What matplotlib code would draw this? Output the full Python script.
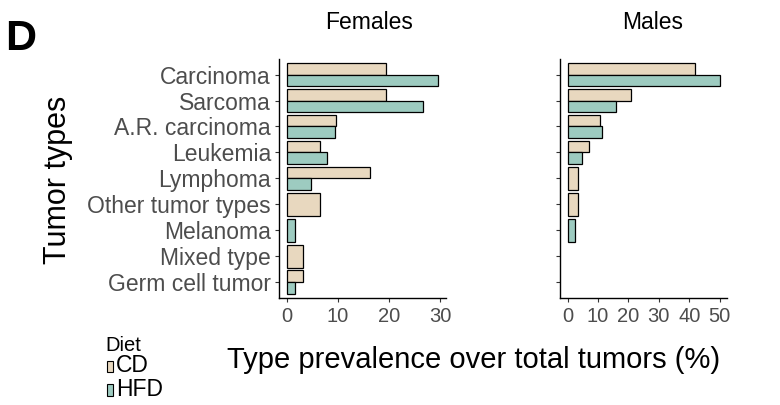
import matplotlib.pyplot as plt
from matplotlib.patches import Rectangle

plt.rcParams["font.family"] = ["Liberation Sans", "DejaVu Sans"]

# %% Data
tumor_types = ["Carcinoma", "Sarcoma", "A.R. carcinoma", "Leukemia", "Lymphoma",
               "Other tumor types", "Melanoma", "Mixed type", "Germ cell tumor"]
female_cd = [19.4, 19.4, 9.7, 6.5, 16.2, 6.5, None, 3.2, 3.2]
female_hfd = [29.7, 26.7, 9.4, 7.9, 4.7, None, 1.5, None, 1.6]
male_cd = [41.8, 20.9, 10.5, 7.0, 3.5, 3.5, None, None, None]
male_hfd = [50.0, 16.0, 11.4, 4.6, None, None, 2.3, None, None]
female_ticks = [0, 10, 20, 30]
male_ticks = [0, 10, 20, 30, 40, 50]

CD_COLOR = "#E8D8BF"
HFD_COLOR = "#9DCBC0"
GRAY = "#4D4D4D"
W, H = 780, 405


def draw_panel(ax, cd, hfd, ticks, show_labels):
    for i, (a, b) in enumerate(zip(cd, hfd)):
        if a is not None and b is not None:
            ax.barh(i - 0.225, a, height=0.45, color=CD_COLOR, edgecolor="black", linewidth=0.9)
            ax.barh(i + 0.225, b, height=0.45, color=HFD_COLOR, edgecolor="black", linewidth=0.9)
        elif a is not None:
            ax.barh(i, a, height=0.9, color=CD_COLOR, edgecolor="black", linewidth=0.9)
        elif b is not None:
            ax.barh(i, b, height=0.9, color=HFD_COLOR, edgecolor="black", linewidth=0.9)
    top = max(v for v in cd + hfd if v is not None)
    ax.set_xlim(-0.05 * top, 1.05 * top)
    ax.set_ylim(len(tumor_types) - 0.4, -0.6)
    ax.set_yticks(range(len(tumor_types)))
    ax.set_yticklabels(tumor_types if show_labels else [])
    ax.set_xticks(ticks)
    ax.tick_params(axis="y", labelsize=16.5, labelcolor=GRAY, color="#333333",
                   length=3, width=0.8, pad=3)
    ax.tick_params(axis="x", labelsize=14.5, labelcolor=GRAY, color="#333333",
                   length=3, width=0.8, pad=4)
    for s in ["top", "right"]:
        ax.spines[s].set_visible(False)
    for s in ["left", "bottom"]:
        ax.spines[s].set_linewidth(1.0)


fig = plt.figure(figsize=(7.8, 4.05), dpi=100)
ax_f = fig.add_axes([279.3 / W, 1 - 297.7 / H, (446 - 279.3) / W, (297.7 - 59) / H])
ax_m = fig.add_axes([560 / W, 1 - 297.7 / H, (727.3 - 560) / W, (297.7 - 59) / H])

draw_panel(ax_f, female_cd, female_hfd, female_ticks, True)
draw_panel(ax_m, male_cd, male_hfd, male_ticks, False)

# panel titles
fig.text(369 / W, 1 - 29 / H, "Females", ha="center", va="baseline", fontsize=16.5)
fig.text(653 / W, 1 - 29 / H, "Males", ha="center", va="baseline", fontsize=16.5)

# axis labels and panel letter
fig.text(5 / W, 1 - 50 / H, "D", ha="left", va="baseline", fontsize=31, fontweight="bold")
fig.text(58 / W, 1 - 180 / H, "Tumor types", ha="center", va="center", rotation=90, fontsize=22)
fig.text(474 / W, 1 - 368 / H, "Type prevalence over total tumors (%)",
         ha="center", va="baseline", fontsize=21)

# legend
fig.text(105 / W, 1 - 351 / H, "Diet", ha="left", va="baseline", fontsize=14.5)
for label, color, y0, y1 in [("CD", CD_COLOR, 361, 372), ("HFD", HFD_COLOR, 384, 396)]:
    fig.add_artist(Rectangle((106.7 / W, 1 - y1 / H), 6.3 / W, (y1 - y0) / H,
                             transform=fig.transFigure, facecolor=color,
                             edgecolor="black", linewidth=0.8))
    fig.text(116 / W, 1 - (y1 + 0.5) / H, label, ha="left", va="baseline", fontsize=16.5)

plt.savefig("out.png", dpi=100)
